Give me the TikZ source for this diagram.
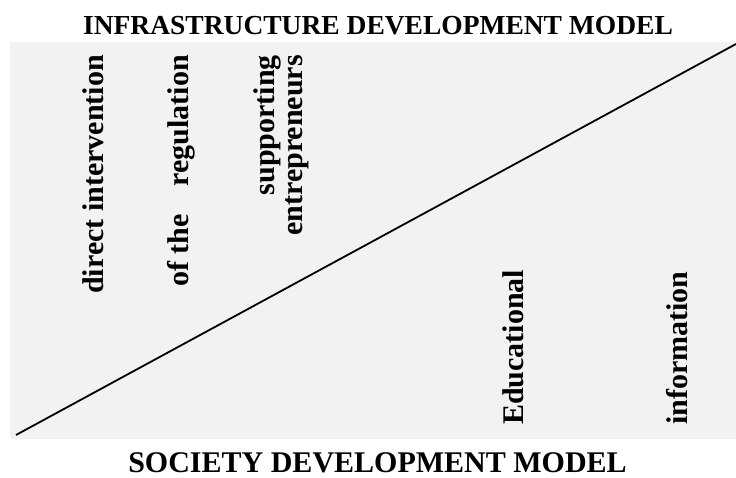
\documentclass[tikz,border=0pt]{standalone}
\usepackage{fontspec}
\setmainfont{Liberation Serif}
\definecolor{zoneGray}{RGB}{242,242,242}

\begin{document}
\begin{tikzpicture}[
        x=1pt, y=1pt,
        model/.style={
            inner sep=0pt, anchor=base, font=\fontsize{30}{36}\selectfont\bfseries
        },
        factor/.style={
            inner sep=0pt, rotate=90, font=\fontsize{30}{28}\selectfont\bfseries
        },
    ]
    \useasboundingbox (0,0) rectangle (736,477);
    \fill[zoneGray] (10,38) rectangle (736,435);

    \coordinate (divStart) at (16,42);
    \coordinate (divEnd) at (736,433);
    \draw[line width=1.8pt] (divStart) -- (divEnd);

    \node (infraModel) [model, font=\fontsize{27.5}{33}\selectfont\bfseries] at (378,442) {INFRASTRUCTURE DEVELOPMENT MODEL};
    \node (societyModel) [model] at (377.5,4.5) {SOCIETY DEVELOPMENT MODEL};

    \node (directIntervention) [factor, anchor=base east] at (103,422) {direct intervention};
    \node (regulation) [factor, anchor=base east] at (188,422) {of the\hspace{28pt}regulation};
    \node (supportEntrepreneurs) [factor, anchor=base east, align=right] at (302,422) {supporting \\ entrepreneurs};

    \node (educational) [factor, anchor=base west] at (523,52) {Educational};
    \node (information) [factor, anchor=base west] at (687,52) {information};

\end{tikzpicture}
\end{document}
